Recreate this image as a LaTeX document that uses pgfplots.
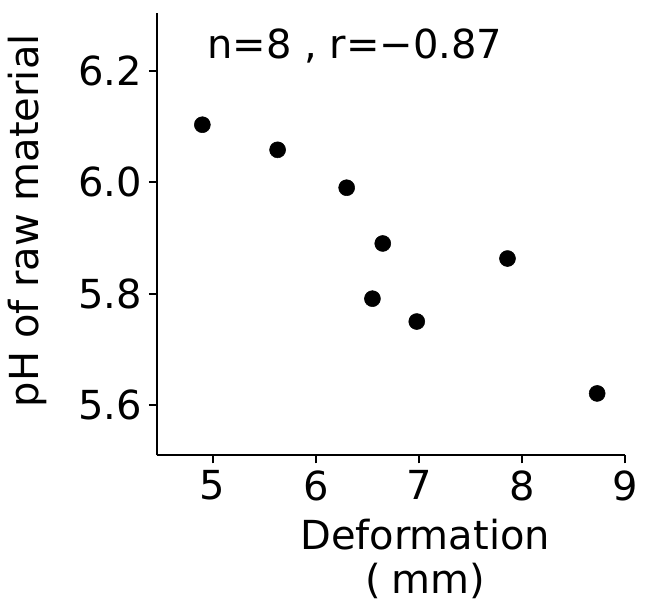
\documentclass[border=0pt]{standalone}
\usepackage{fontspec}
\setmainfont{DejaVu Sans}
\usepackage{pgfplots}
\pgfplotsset{compat=1.18}
\begin{document}
\begin{tikzpicture}[x=1pt,y=1pt]
\useasboundingbox (-117.75,-113.25) rectangle (381,341.5);
\begin{axis}[
  at={(0,0)}, anchor=south west,
  scale only axis, width=351pt, height=332pt,
  xmin=4.46, xmax=9, ymin=5.51, ymax=6.304,
  axis x line*=bottom, axis y line*=left,
  axis line style={line width=1.4pt, -},
  tick align=outside, major tick length=6pt,
  tick style={line width=1.4pt, black},
  xtick={5,6,7,8,9}, ytick={5.6,5.8,6.0,6.2},
  yticklabels={5.6,5.8,6.0,6.2},
  /pgf/number format/assume math mode=true,
  ticklabel style={font=\fontsize{30}{36}\selectfont},
  xticklabel style={yshift=-2pt},
  yticklabel style={xshift=-2pt},
  xlabel={Deformation\\(\;mm)},
  xlabel style={font=\fontsize{30}{33}\selectfont, align=center, at={(axis description cs:0.573,0)}, anchor=north, yshift=-44pt},
  ylabel={pH of raw material},
  ylabel style={font=\fontsize{30}{36}\selectfont, at={(axis description cs:-0.225,0.53)}, anchor=south},
  clip=false,
]
\addplot[only marks, mark=*, mark size=6pt, black] coordinates {
(4.90,6.103) (5.63,6.058) (6.30,5.990) (6.65,5.890)
(6.55,5.791) (6.98,5.750) (7.86,5.863) (8.73,5.621)
};
\node[font=\fontsize{30}{36}\selectfont] at (axis description cs:0.423,0.925) {n=8 , r=−0.87};
\end{axis}
\end{tikzpicture}
\end{document}
